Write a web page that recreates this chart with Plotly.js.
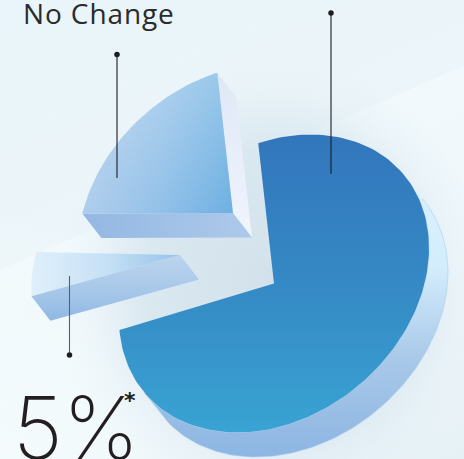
<!DOCTYPE html>
<html>
<head>
<meta charset="utf-8">
<script src="https://cdn.plot.ly/plotly-3.0.1.min.js"></script>
<style>
  html, body { margin: 0; padding: 0; overflow: hidden; }
  #chart {
    width: 464px; height: 459px;
    background:
      radial-gradient(ellipse 215px 225px at 275px 285px, rgba(208,224,234,.95) 0%, rgba(214,229,238,.85) 60%, rgba(225,237,244,.35) 85%, rgba(232,242,247,0) 100%),
      radial-gradient(ellipse 300px 260px at 0px 459px, rgba(246,252,253,.8) 0%, rgba(246,252,253,0) 100%),
      linear-gradient(156.2deg, #e9f5fa 0px, #ecf5f9 247px, #f1f9fc 247.5px, #eff7fb 420px, #e6f1f6 607px);
  }
  .annotation[data-index="0"] text { letter-spacing: 0.9px; }
</style>
</head>
<body>
<div id="chart"></div>
<script>
// Slice shares, in percent, in drawing order around the pie
const sliceNames = ['Largest share', 'Five percent share', 'No Change'];
const sliceValues = [75.4, 5, 19.6];
const startAngle = -62.3;

// Tilted disc: semi-axes, tilt and extrusion of the exploded pie
const semiMajor = 169.4, semiMinor = 132.4, tilt = 40.3 * Math.PI / 180;
const depth = [19, 24.5];
const apex = [[274, 283.5], [180, 255], [233, 213]];
const sliceScale = [1, 0.96, 1];
const sliceTurn = [0, 1.4, 0];

// Leader lines: x, y of the dot end, y of the free end
const leaders = [
  { x: 331, dot: 13, end: 174, color: '#1d1d1f' },
  { x: 117, dot: 54.5, end: 178, color: '#1d1d1f' },
  { x: 69.5, dot: 355, end: 276, color: '#5b6066' }
];

const rad = d => d * Math.PI / 180;
function rimPoint(i, deg) {
  const c = apex[i], k = sliceScale[i];
  const a = k * semiMajor * Math.cos(rad(deg)), b = k * semiMinor * Math.sin(rad(deg));
  return [c[0] + a * Math.cos(tilt) + b * Math.sin(tilt),
          c[1] - a * Math.sin(tilt) + b * Math.cos(tilt)];
}
function arc(i, from, to) {
  const pts = [], n = Math.ceil(Math.abs(to - from) / 1.5);
  for (let j = 0; j <= n; j++) pts.push(rimPoint(i, from + (to - from) * j / n));
  return pts;
}
const shift = p => [p[0] + depth[0], p[1] + depth[1]];
function poly(pts, style) {
  return Object.assign({
    x: pts.map(p => p[0]), y: pts.map(p => p[1]),
    type: 'scatter', mode: 'lines', fill: 'toself',
    line: { width: 0 }, hoverinfo: 'skip', showlegend: false
  }, style);
}
function grad(type, start, stop, colors) {
  return { fillgradient: {
    type, start, stop,
    colorscale: colors.map((c, i) => [i / (colors.length - 1), c])
  } };
}

// Cumulative angular extents for each slice
let running = startAngle;
const spans = sliceValues.map((v, i) => {
  const s = [running + sliceTurn[i], running + sliceTurn[i] + v * 3.6];
  running += v * 3.6;
  return s;
});

const traces = [];

// Largest slice: extruded rim, then the face
{
  const s = spans[0], c = apex[0];
  const front = arc(0, 0, 180);
  const back = front.map(shift).reverse();
  traces.push(poly(front.concat(back), Object.assign(
    { line: { width: 0.6, color: '#a9cfec' } },
    grad('vertical', 173, 455, ['#daf1fe', '#d4edfd', '#a8c8e8', '#8db6e3']))));
  const face = [c].concat(arc(0, s[0], s[1])).concat([c]);
  traces.push(poly(face, grad('vertical', 134, 431, ['#3276bc', '#3589c4', '#39a3d3'])));
}

// Thin five percent slice
{
  const s = spans[1], c = apex[1];
  const a = rimPoint(1, s[0]);
  traces.push(poly([c].concat(arc(1, s[0], s[1])).concat([c]),
    grad('horizontal', 30, 180, ['#e0f0fa', '#c6e1f5', '#96c3e9'])));
  traces.push(poly([c, a, shift(a), shift(c), c],
    grad('vertical', 255, 323, ['#bcd4ee', '#a8c8e9', '#8fb7e4'])));
}

// No Change slice: right wall, front wall, face with a soft sheen towards the top
{
  const s = spans[2], c = apex[2];
  const a = rimPoint(2, s[0]), b = rimPoint(2, s[1]);
  traces.push(poly([c, b, shift(b), shift(c), c],
    grad('vertical', 73, 238, ['#dfe8f6', '#f0f5fd'])));
  traces.push(poly([c, a, shift(a), shift(c), c],
    grad('horizontal', 83, 253, ['#93b8e3', '#aec9ea'])));
  const face = [c].concat(arc(2, s[0], s[1])).concat([c]);
  traces.push(poly(face, grad('horizontal', 83, 233, ['#afcdec', '#93c1e8', '#6db0e2'])));
  traces.push(poly(face, grad('vertical', 73, 213, ['rgba(255,255,255,0.28)', 'rgba(255,255,255,0)'])));
}

// Leader lines with a dot on one end
leaders.forEach(l => {
  traces.push({
    x: [l.x, l.x], y: [l.dot, l.end], type: 'scatter', mode: 'lines',
    line: { width: 1.1, color: l.color }, hoverinfo: 'skip', showlegend: false
  });
  traces.push({
    x: [l.x], y: [l.dot], type: 'scatter', mode: 'markers',
    marker: { size: 5.5, color: '#1d1d1f' }, hoverinfo: 'skip', showlegend: false
  });
});

const hiddenAxis = r => ({ range: r, visible: false, fixedrange: true, zeroline: false, showgrid: false });

const layout = {
  width: 464, height: 459,
  margin: { l: 0, r: 0, t: 0, b: 0 },
  paper_bgcolor: 'rgba(0,0,0,0)', plot_bgcolor: 'rgba(0,0,0,0)',
  xaxis: hiddenAxis([0, 464]), yaxis: hiddenAxis([459, 0]),
  showlegend: false,
  annotations: [
    { text: 'No Change', x: 24.5, y: 13, xref: 'x', yref: 'y', xanchor: 'left', yanchor: 'middle', showarrow: false,
      font: { family: 'Open Sans', size: 28, color: '#2b2a2c' } },
    { text: '5%', x: 11, y: 428, xref: 'x', yref: 'y', xanchor: 'left', yanchor: 'middle', showarrow: false,
      font: { family: 'Inter', size: 86, weight: 200, color: '#231f20' } },
    { text: '*', x: 122, y: 400, xref: 'x', yref: 'y', xanchor: 'left', yanchor: 'middle', showarrow: false,
      font: { family: 'DejaVu Sans', size: 22, weight: 700, color: '#231f20' } }
  ]
};

Plotly.newPlot('chart', traces, layout, { displayModeBar: false, staticPlot: true });
</script>
</body>
</html>
